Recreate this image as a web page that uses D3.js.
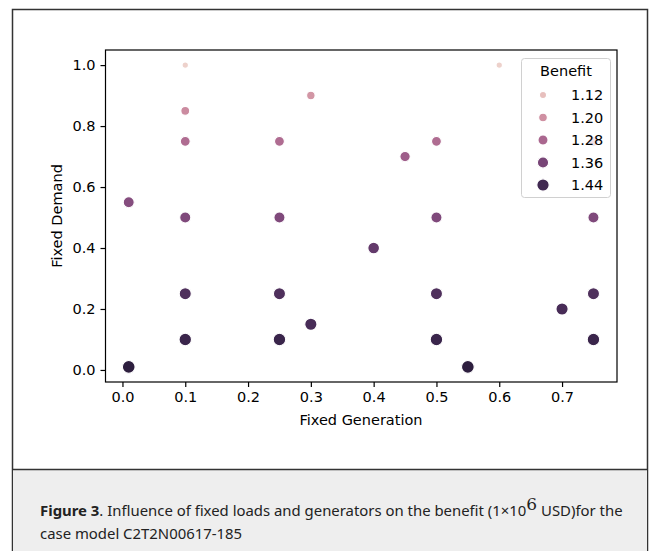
<!DOCTYPE html>
<html>
<head>
<meta charset="utf-8">
<script src="https://cdn.jsdelivr.net/npm/d3@7"></script>
<style>
  body { margin: 0; background: #fff; }
  svg text { font-family: "DejaVu Sans", sans-serif; }
  .caption { font-family: "Noto Sans", "Open Sans", sans-serif; font-size: 14.9px; fill: #222; }
</style>
</head>
<body>
<svg id="chart" width="656" height="551"></svg>
<script>
// data
var genValues = [0.1, 0.6, 0.1, 0.3, 0.1, 0.25, 0.5, 0.75, 0.45, 0.01, 0.1, 0.25, 0.5, 0.75, 0.4,
                 0.1, 0.25, 0.5, 0.75, 0.7, 0.3, 0.1, 0.25, 0.5, 0.75, 0.01, 0.55];
var demandValues = [1.0, 1.0, 0.85, 0.9, 0.75, 0.75, 0.75, 0.75, 0.7, 0.55, 0.5, 0.5, 0.5, 0.5, 0.4,
                    0.25, 0.25, 0.25, 0.25, 0.2, 0.15, 0.1, 0.1, 0.1, 0.1, 0.01, 0.01];
var benefitValues = [1.09, 1.09, 1.21, 1.19, 1.27, 1.27, 1.27, 1.27, 1.30, 1.34, 1.35, 1.35, 1.35, 1.35, 1.39,
                     1.42, 1.42, 1.42, 1.42, 1.43, 1.43, 1.45, 1.45, 1.45, 1.45, 1.47, 1.47];
var xTicks = [0.0, 0.1, 0.2, 0.3, 0.4, 0.5, 0.6, 0.7];
var yTicks = [0.0, 0.2, 0.4, 0.6, 0.8, 1.0];
var legendValues = [1.12, 1.20, 1.28, 1.36, 1.44];

var svg = d3.select("#chart");

// outer frame and caption panel
svg.append("rect").attr("x", 12.5).attr("y", 9.5).attr("width", 635).attr("height", 560)
  .attr("fill", "#fff").attr("stroke", "#333").attr("stroke-width", 1.5);
svg.append("rect").attr("x", 13).attr("y", 469.5).attr("width", 634).attr("height", 100)
  .attr("fill", "#eeeeee").attr("stroke", "none");
svg.append("line").attr("x1", 12.5).attr("x2", 647.5).attr("y1", 469.5).attr("y2", 469.5)
  .attr("stroke", "#333").attr("stroke-width", 1.5);

// seaborn default cubehelix colormap (light -> dark)
function cubehelix(x) {
  var gamma = 1, s = 0, r = 0.4, h = 0.8;
  var xg = Math.pow(x, gamma);
  var a = h * xg * (1 - xg) / 2;
  var phi = 2 * Math.PI * (s / 3 + r * x);
  var c = Math.cos(phi), sn = Math.sin(phi);
  var R = xg + a * (-0.14861 * c + 1.78277 * sn);
  var G = xg + a * (-0.29227 * c - 0.90649 * sn);
  var B = xg + a * (1.97294 * c);
  var f = function (v) { return Math.round(Math.max(0, Math.min(1, v)) * 255); };
  return d3.rgb(f(R), f(G), f(B)).toString();
}

var bMin = d3.min(benefitValues), bMax = d3.max(benefitValues);
var hue = d3.scaleLinear().domain([bMin, bMax]).range([0.85, 0.15]);
var area = d3.scaleLinear().domain([bMin, bMax]).range([18, 72]);
var ptPx = 1.5;
function radius(b) { return Math.sqrt(area(b)) * ptPx / 2; }
function color(b) { return cubehelix(hue(b)); }

var x = d3.scaleLinear().domain([-0.027, 0.7875]).range([105.5, 617]);
var y = d3.scaleLinear().domain([-0.0395, 1.0495]).range([382, 50]);

var g = svg.append("g");

// points
var pts = genValues.map(function (d, i) {
  return { gen: d, demand: demandValues[i], benefit: benefitValues[i] };
});
g.selectAll("circle.pt").data(pts).enter().append("circle")
  .attr("class", "pt")
  .attr("cx", function (d) { return x(d.gen); })
  .attr("cy", function (d) { return y(d.demand); })
  .attr("r", function (d) { return radius(d.benefit); })
  .attr("fill", function (d) { return color(d.benefit); })
  .attr("stroke", "#fff")
  .attr("stroke-width", 1.1);

// axes
var xAxis = g.append("g").attr("transform", "translate(0,382)")
  .call(d3.axisBottom(x).tickValues(xTicks).tickFormat(d3.format(".1f")).tickSize(5).tickPadding(5));
var yAxis = g.append("g").attr("transform", "translate(105.5,0)")
  .call(d3.axisLeft(y).tickValues(yTicks).tickFormat(d3.format(".1f")).tickSize(5).tickPadding(5));
[xAxis, yAxis].forEach(function (ax) {
  ax.select(".domain").remove();
  ax.selectAll(".tick line").attr("stroke", "#000").attr("stroke-width", 1.2);
  ax.selectAll(".tick text").attr("fill", "#000").style("font-size", "14.5px")
    .style("font-family", "DejaVu Sans");
});

// spines
g.append("rect").attr("x", 105.5).attr("y", 50).attr("width", 511.5).attr("height", 332)
  .attr("fill", "none").attr("stroke", "#000").attr("stroke-width", 1.2);

// axis labels
g.append("text").attr("x", 361).attr("y", 425).attr("text-anchor", "middle")
  .style("font-size", "14.5px").text("Fixed Generation");
g.append("text").attr("transform", "translate(62,216) rotate(-90)").attr("text-anchor", "middle")
  .style("font-size", "14.5px").text("Fixed Demand");

// legend
var leg = g.append("g");
leg.append("rect").attr("x", 521.5).attr("y", 58.5).attr("width", 89).attr("height", 139)
  .attr("rx", 3).attr("fill", "#fff").attr("fill-opacity", 0.8)
  .attr("stroke", "#d0d0d0").attr("stroke-width", 1);
leg.append("text").attr("x", 566).attr("y", 76).attr("text-anchor", "middle")
  .style("font-size", "14.5px").text("Benefit");
var items = leg.selectAll("g.item").data(legendValues).enter().append("g")
  .attr("class", "item")
  .attr("transform", function (d, i) { return "translate(0," + (95 + i * 22.5) + ")"; });
items.append("circle").attr("cx", 543).attr("cy", 0)
  .attr("r", function (d) { return radius(d); })
  .attr("fill", function (d) { return color(d); })
  .attr("stroke", "#fff").attr("stroke-width", 1.1);
items.append("text").attr("x", 571).attr("y", 5).style("font-size", "14.5px")
  .text(function (d) { return d3.format(".2f")(d); });

// caption
var cap1 = svg.append("text").attr("class", "caption").attr("x", 40).attr("y", 516);
cap1.append("tspan").style("font-weight", "bold").text("Figure 3");
cap1.append("tspan").text(". Influence of fixed loads and generators on the benefit (1×10");
cap1.append("tspan").attr("dy", -6).style("font-size", "17px").style("font-family", "DejaVu Serif").text("6");
cap1.append("tspan").attr("dy", 6).text(" USD)for the");
svg.append("text").attr("class", "caption").attr("x", 40).attr("y", 539)
  .text("case model C2T2N00617-185");
</script>
</body>
</html>
